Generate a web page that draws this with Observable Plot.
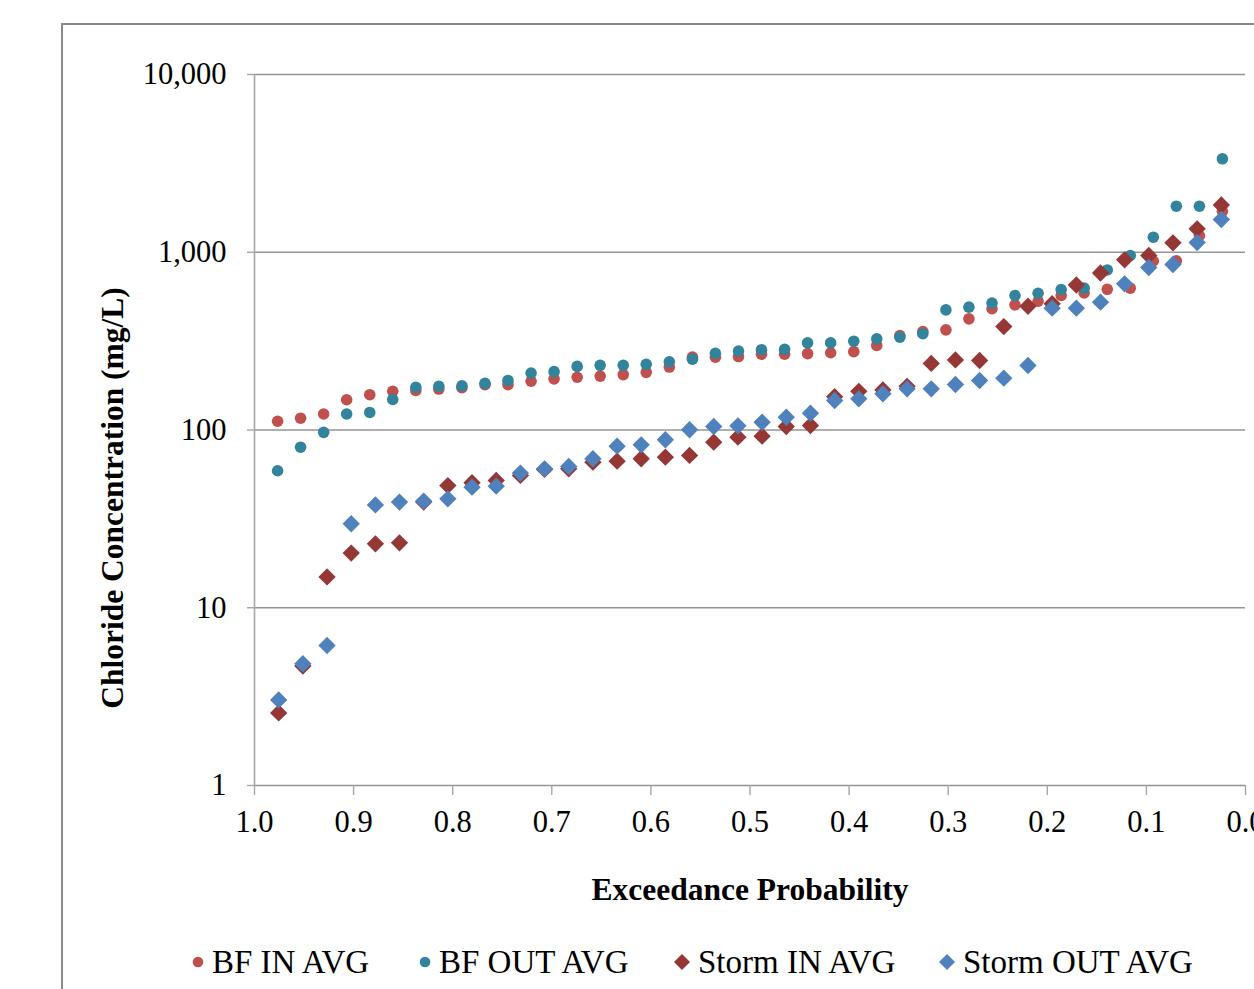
<!DOCTYPE html>
<html>
<head>
<meta charset="utf-8">
<script src="https://cdn.jsdelivr.net/npm/d3@7"></script>
<script src="https://cdn.jsdelivr.net/npm/@observablehq/plot@0.6"></script>
<style>
  body { margin: 0; background: #fff; overflow: hidden; }
  #wrap { position: relative; width: 1254px; height: 989px; font-family: "Liberation Serif", "Times New Roman", serif; }
  #frame { position: absolute; left: 61px; top: 23px; width: 1300px; height: 1000px; border-left: 2px solid #8a8a8a; border-top: 2px solid #8a8a8a; pointer-events: none; }
  .legItem { position: absolute; top: 944px; height: 36px; line-height: 36px; font-size: 33px; color: #000; white-space: nowrap; }
  .legItem svg { position: absolute; }
</style>
</head>
<body>
<div id="wrap"><div id="chart"></div><div id="legend"></div><div id="frame"></div></div>
<script>
// ---- data ----
const bfX = [0.9767, 0.9535, 0.9302, 0.9070, 0.8837, 0.8605, 0.8372, 0.8140, 0.7907, 0.7674,
             0.7442, 0.7209, 0.6977, 0.6744, 0.6512, 0.6279, 0.6047, 0.5814, 0.5581, 0.5349,
             0.5116, 0.4884, 0.4651, 0.4419, 0.4186, 0.3953, 0.3721, 0.3488, 0.3256, 0.3023,
             0.2791, 0.2558, 0.2326, 0.2093, 0.1860, 0.1628, 0.1395, 0.1163, 0.0930, 0.0698,
             0.0465, 0.0233];
const bfIn = [112, 116.5, 123, 148, 158, 165, 167, 170, 173, 180,
              180, 188, 194, 198, 201, 205, 211, 226, 257, 257,
              259, 267, 267, 269, 272, 276, 299, 340, 358, 366,
              422, 481, 506, 530, 571, 590, 619, 628, 893, 895,
              1239, 1700];
const bfOut = [59, 80, 97, 123, 125.5, 148.5, 174, 176, 177, 183,
               190, 209, 213, 228, 231, 231, 234, 242, 250, 270,
               278, 283, 284, 309, 309, 316, 326, 333, 348, 474,
               491, 518, 571, 588, 617, 628, 795, 959, 1215, 1816,
               1816, 3355];
const stormX = [0.9756, 0.9512, 0.9268, 0.9024, 0.8780, 0.8537, 0.8293, 0.8049, 0.7805, 0.7561,
                0.7317, 0.7073, 0.6829, 0.6585, 0.6341, 0.6098, 0.5854, 0.5610, 0.5366, 0.5122,
                0.4878, 0.4634, 0.4390, 0.4146, 0.3902, 0.3659, 0.3415, 0.3171, 0.2927, 0.2683,
                0.2439, 0.2195, 0.1951, 0.1707, 0.1463, 0.1220, 0.0976, 0.0732, 0.0488, 0.0244];
const stormIn = [2.56, 4.7, 14.9, 20.3, 22.9, 23.2, 39.3, 48.7, 50.5, 52,
                 55.5, 60, 60.5, 65.9, 66.8, 68.9, 70.3, 71.9, 85.4, 91.1,
                 92.3, 104.6, 106, 154, 165, 168, 176, 237, 248, 246,
                 382, 497, 513, 654, 764, 907, 959, 1130, 1355, 1844];
const stormOut = [3.03, 4.84, 6.13, 29.7, 37.9, 39.3, 39.8, 41, 47.7, 48.3,
                  57.2, 60.5, 62.3, 68.9, 81.1, 82.5, 88.1, 100.3, 104.6, 105.6,
                  110.6, 118, 124.3, 146.5, 149.8, 159.8, 170.5, 170.5, 180.3, 189.9,
                  195.6, 230.6, 484.5, 484.5, 523.6, 664.5, 821, 853, 1134, 1529];
const xTicks = [1.0, 0.9, 0.8, 0.7, 0.6, 0.5, 0.4, 0.3, 0.2, 0.1, 0.0];
const yTicks = [1, 10, 100, 1000, 10000];
const seriesNames = ["BF IN AVG", "BF OUT AVG", "Storm IN AVG", "Storm OUT AVG"];
const seriesColors = ["#C0504D", "#31849B", "#953735", "#4F81BD"];
const xTitle = "Exceedance Probability";
const yTitle = "Chloride Concentration (mg/L)";

const toRows = (xs, ys) => xs.map((x, i) => ({x, y: ys[i]}));
const bfInRows = toRows(bfX, bfIn);
const bfOutRows = toRows(bfX, bfOut);
const stormInRows = toRows(stormX, stormIn);
const stormOutRows = toRows(stormX, stormOut);

const chart = Plot.plot({
  width: 1254,
  height: 930,
  marginLeft: 254,
  marginRight: 9,
  marginTop: 74,
  marginBottom: 145,
  style: {fontFamily: "'Liberation Serif', 'Times New Roman', serif", fontSize: "30px", color: "#000", background: "transparent", overflow: "visible"},
  x: {domain: [1, 0], label: null},
  y: {type: "log", domain: [1, 10000], label: null},
  marks: [
    Plot.gridY(yTicks, {stroke: "#959595", strokeOpacity: 1, strokeWidth: 1.4}),
    Plot.ruleX([1], {stroke: "#a6a6a6", strokeWidth: 1.6}),
    Plot.axisX(xTicks, {tickSize: 10, tickPadding: 15, stroke: "#a6a6a6", strokeWidth: 1.4, fontSize: 30.5, fill: "#000", label: null, tickFormat: d3.format(".1f")}),
    Plot.axisY(yTicks, {tickSize: 7, tickPadding: 21, stroke: "#a6a6a6", strokeWidth: 1.4, fontSize: 30.5, fill: "#000", label: null, tickFormat: d3.format(",")}),
    Plot.dot(bfInRows, {x: "x", y: "y", r: 5.8, fill: seriesColors[0]}),
    Plot.dot(bfOutRows, {x: "x", y: "y", r: 5.8, fill: seriesColors[1]}),
    Plot.dot(stormInRows, {x: "x", y: "y", r: 7.8, symbol: "diamond2", fill: seriesColors[2]}),
    Plot.dot(stormOutRows, {x: "x", y: "y", r: 7.8, symbol: "diamond2", fill: seriesColors[3]}),
    Plot.text([xTitle], {frameAnchor: "bottom", dy: 104, textAnchor: "middle", lineAnchor: "middle", fontWeight: "bold", fontSize: 31.5, fill: "#000"}),
    Plot.text([yTitle], {frameAnchor: "left", rotate: -90, dx: -142, dy: 68, textAnchor: "middle", lineAnchor: "middle", fontWeight: "bold", fontSize: 31.5, fill: "#000"})
  ]
});
document.getElementById("chart").appendChild(chart);

// legend below the svg
const legendLefts = [190, 417, 673, 938];
const legend = document.getElementById("legend");
seriesNames.forEach((name, i) => {
  const item = document.createElement("div");
  item.className = "legItem";
  item.style.left = legendLefts[i] + "px";
  const isDiamond = i >= 2;
  const marker = isDiamond
    ? `<svg width="18" height="18" style="left:0;top:9px"><path d="M9,1L17,9L9,17L1,9Z" fill="${seriesColors[i]}"/></svg>`
    : `<svg width="14" height="14" style="left:1px;top:11px"><circle cx="7" cy="7" r="5.3" fill="${seriesColors[i]}"/></svg>`;
  item.innerHTML = marker + `<span style="position:absolute;left:${isDiamond ? 25 : 22}px;top:0">${name}</span>`;
  legend.appendChild(item);
});
</script>
</body>
</html>
